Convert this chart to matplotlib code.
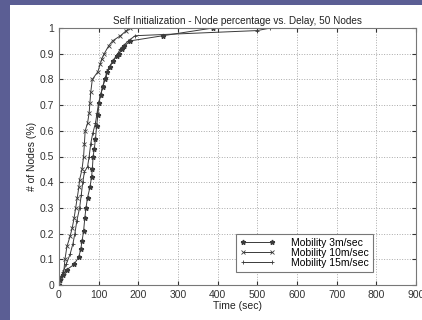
import numpy as np
import matplotlib.pyplot as plt
from matplotlib.patches import Rectangle

plt.rcParams['font.family'] = ['Liberation Sans', 'DejaVu Sans']

# Mobility 3m/sec
t3 = [0, 3, 10, 20, 38, 50, 55, 58, 62, 65, 68, 72, 78, 82, 84, 86, 89, 92, 95, 98,
      101, 105, 110, 115, 122, 128, 136, 145, 152, 158, 165, 180, 262, 388]
n3 = [0, 0.02, 0.04, 0.06, 0.08, 0.11, 0.14, 0.17, 0.21, 0.26, 0.30, 0.34, 0.38, 0.42, 0.45, 0.50, 0.53, 0.57, 0.62, 0.66,
      0.71, 0.74, 0.77, 0.80, 0.83, 0.85, 0.87, 0.89, 0.90, 0.92, 0.93, 0.95, 0.97, 1.0]

# Mobility 10m/sec
t10 = [0, 5, 12, 15, 20, 28, 33, 38, 42, 46, 50, 52, 58, 62, 64, 66, 72, 76, 78, 80,
       84, 98, 104, 108, 114, 125, 135, 155, 170, 178]
n10 = [0, 0.03, 0.05, 0.10, 0.15, 0.19, 0.22, 0.26, 0.30, 0.34, 0.38, 0.41, 0.45, 0.50, 0.55, 0.60, 0.63, 0.67, 0.71, 0.75,
       0.80, 0.83, 0.86, 0.88, 0.90, 0.93, 0.95, 0.97, 0.99, 1.0]

# Mobility 15m/sec
t15 = [0, 2, 10, 18, 28, 35, 40, 45, 52, 56, 60, 64, 72, 76, 80, 85, 92, 96, 100, 105,
       112, 118, 124, 135, 148, 155, 175, 192, 500, 533]
n15 = [0, 0.02, 0.05, 0.08, 0.12, 0.16, 0.20, 0.25, 0.30, 0.35, 0.40, 0.44, 0.46, 0.50, 0.55, 0.59, 0.63, 0.67, 0.71, 0.74,
       0.78, 0.81, 0.84, 0.87, 0.90, 0.92, 0.95, 0.97, 0.99, 1.0]

fig = plt.figure(figsize=(4.22, 3.2), dpi=100, facecolor='#5b5e94')
fig.patches.append(Rectangle((10 / 422, 0), 1, 1 - 5 / 320, transform=fig.transFigure,
                             facecolor='white', edgecolor='none', zorder=-10))

ax = fig.add_axes([59 / 422, 1 - 285 / 320, 357 / 422, 257 / 320])
lc = '#3a3a3a'
ax.plot(t3, n3, color=lc, lw=0.7, marker='*', ms=3.5, label='Mobility 3m/sec')
ax.plot(t10, n10, color=lc, lw=0.7, marker='x', ms=2.8, mew=0.6, label='Mobility 10m/sec')
ax.plot(t15, n15, color=lc, lw=0.7, marker='+', ms=3.5, mew=0.6, label='Mobility 15m/sec')

ax.set_xlim(0, 900)
ax.set_ylim(0, 1)
ax.set_xticks(np.arange(0, 901, 100))
ax.set_yticks(np.arange(0, 1.01, 0.1))
ax.set_yticklabels(['0', '0.1', '0.2', '0.3', '0.4', '0.5', '0.6', '0.7', '0.8', '0.9', '1'])
ax.tick_params(direction='in', length=3, labelsize=7.5, colors='#333333', top=True, right=True)
ax.grid(True, linestyle=':', color='#aaaaaa', lw=0.7)
for s in ax.spines.values():
    s.set_color('#777777')
    s.set_linewidth(0.8)

ax.set_title('Self Initialization - Node percentage vs. Delay, 50 Nodes', fontsize=7.2, pad=3, color='#222222')
ax.set_xlabel('Time (sec)', fontsize=7.5, color='#222222', labelpad=1)
ax.set_ylabel('# of Nodes (%)', fontsize=7.5, color='#222222', labelpad=2)

leg = ax.legend(loc='lower right', bbox_to_anchor=(0.895, 0.03), fontsize=7.5, numpoints=2,
                fancybox=False, framealpha=1, edgecolor='#777777', handlelength=3.3,
                labelspacing=0.0, borderpad=0.4, handletextpad=1.6)
leg.get_frame().set_linewidth(0.8)

fig.savefig('out.png', dpi=100, facecolor=fig.get_facecolor())
